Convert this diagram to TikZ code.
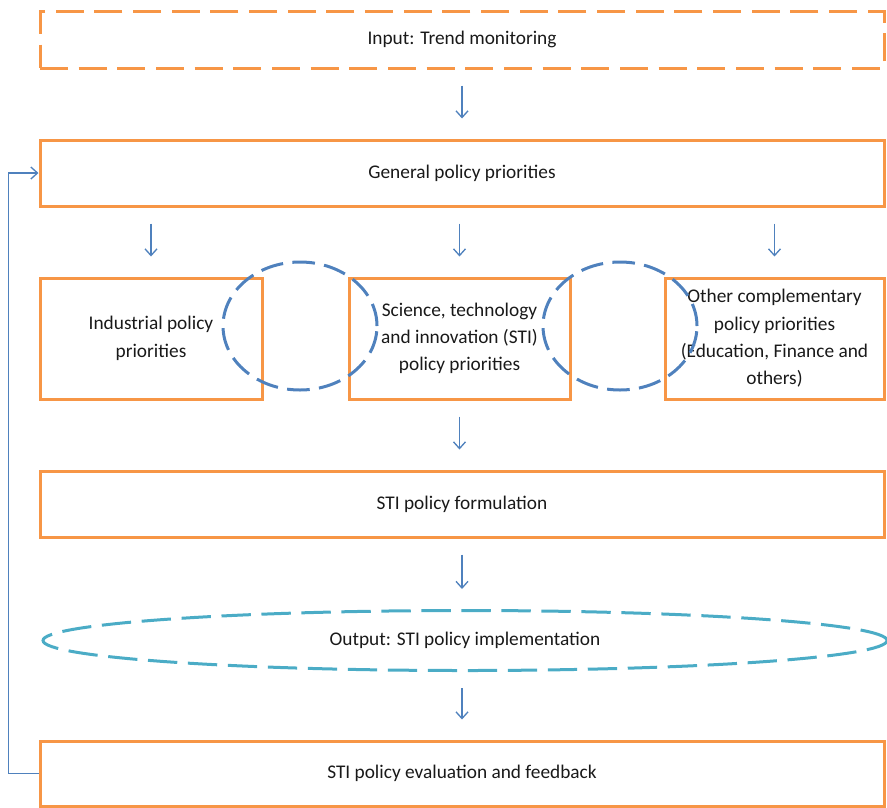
\documentclass[tikz,border=0pt]{standalone}
\usepackage{fontspec}
\setmainfont{Carlito}
\usetikzlibrary{arrows.meta,shapes.geometric}

\definecolor{boxorange}{HTML}{F79646}
\definecolor{linkblue}{HTML}{4F81BD}
\definecolor{outcyan}{HTML}{4BACC6}

\begin{document}
\begin{tikzpicture}[x=0.75pt, y=-0.75pt,
    every node/.style={font=\fontsize{14.5}{20.5}\selectfont, text=black!90},
    box/.style={draw=boxorange, line width=2.25pt, rectangle, align=center,
        minimum width=633pt, minimum height=49.5pt},
    inbox/.style={box, minimum height=42.75pt, dash pattern=on 21pt off 8pt},
    subbox/.style={box, minimum height=90.75pt},
    link/.style={draw=linkblue, line width=2.25pt, ellipse, inner sep=0pt,
        minimum width=115.5pt, minimum height=96pt, dash pattern=on 17pt off 7pt},
    outellipse/.style={draw=outcyan, line width=2.25pt, ellipse, inner sep=0pt,
        minimum width=633pt, minimum height=45pt, dash pattern=on 22pt off 8pt},
    flow/.style={draw=linkblue, line width=1pt, -{Straight Barb[length=5pt,width=9pt]},
        shorten <=12pt, shorten >=15pt},
    feedback/.style={draw=linkblue, line width=1pt, -{Straight Barb[length=5pt,width=9pt]}}]
    \useasboundingbox (0,0) rectangle (887,807);

    \node[inbox] (input) at (462,39.5) {Input: Trend monitoring};
    \node[box] (general) at (462,173) {General policy priorities};

    \node[subbox, minimum width=166.5pt] (industrial) at (151,338.5) {Industrial policy\\priorities};
    \node[subbox, minimum width=165.75pt] (sti) at (459.5,338.5) {Science, technology\\and innovation (STI)\\policy priorities};
    \node[subbox, minimum width=164.25pt] (other) at (774.5,338.5) {Other complementary\\policy priorities\\(Education, Finance and\\others)};

    \node[box] (formulation) at (462,504) {STI policy formulation};
    \node[outellipse] (output) at (465,640.5) {Output: STI policy implementation};
    \node[box, minimum height=48.75pt] (evaluation) at (462,773.5) {STI policy evaluation and feedback};

    % overlaps between the priority boxes
    \node[link] (link1) at (300,326) {};
    \node[link] (link2) at (620,326) {};

    \draw[flow] (input.south) -- (input.south |- general.north);
    \draw[flow] (general.south -| industrial) -- (industrial.north);
    \draw[flow] (general.south -| sti) -- (sti.north);
    \draw[flow] (general.south -| other) -- (other.north);
    \draw[flow] (sti.south) -- (sti.south |- formulation.north);
    \draw[flow] (formulation.south) -- (formulation.south |- output.north);
    \draw[flow] (output.south -| evaluation.north) -- (evaluation.north);

    \draw[feedback] (evaluation.west) -- ++(-30,0) |- (general.west);
\end{tikzpicture}
\end{document}
